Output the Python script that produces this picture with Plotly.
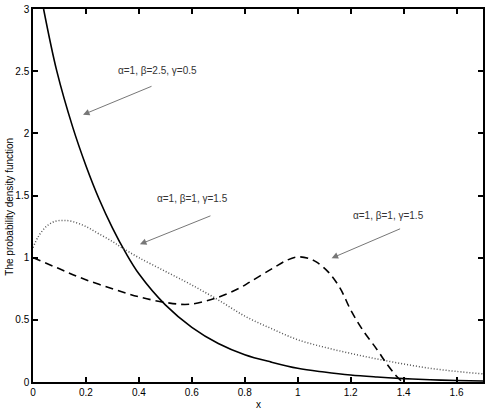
import plotly.graph_objects as go

# curve values
x_solid = [0.04, 0.09, 0.15, 0.2, 0.25, 0.3, 0.35, 0.4, 0.5, 0.6, 0.7, 0.8, 0.9, 1.0,
           1.1, 1.2, 1.3, 1.4, 1.5, 1.6, 1.7]
y_solid = [3.0, 2.5, 2.05, 1.74, 1.47, 1.24, 1.04, 0.87, 0.62, 0.44, 0.31, 0.22, 0.16, 0.11,
           0.08, 0.056, 0.04, 0.027, 0.018, 0.012, 0.008]

x_dot = [0, 0.02, 0.05, 0.08, 0.115, 0.15, 0.2, 0.25, 0.3, 0.336, 0.4, 0.5, 0.6, 0.7, 0.8,
         0.9, 1.0, 1.1, 1.2, 1.3, 1.4, 1.5, 1.6, 1.7]
y_dot = [1.08, 1.17, 1.25, 1.29, 1.30, 1.29, 1.25, 1.19, 1.13, 1.08, 1.0, 0.89, 0.78, 0.66,
         0.53, 0.43, 0.34, 0.28, 0.23, 0.185, 0.145, 0.11, 0.085, 0.065]

x_dash = [0, 0.1, 0.19, 0.3, 0.4, 0.5, 0.59, 0.69, 0.78, 0.82, 0.906, 0.96, 1.0, 1.04, 1.07,
          1.115, 1.16, 1.2, 1.245, 1.3, 1.335, 1.37, 1.39]
y_dash = [1.0, 0.91, 0.83, 0.75, 0.685, 0.64, 0.625, 0.675, 0.755, 0.805, 0.915, 0.98, 1.006,
          0.995, 0.966, 0.886, 0.755, 0.58, 0.42, 0.26, 0.15, 0.055, 0.01]

labels = ['\u03b1=1, \u03b2=2.5, \u03b3=0.5',
          '\u03b1=1, \u03b2=1, \u03b3=1.5',
          '\u03b1=1, \u03b2=1, \u03b3=1.5']
label_pos = [(0.472, 2.506), (0.604, 1.478), (1.343, 1.341)]
arrow_head = [(0.189, 2.15), (0.404, 1.108), (1.128, 0.996)]
arrow_tail = [(70, -29), (72, -29), (70, -30)]

fig = go.Figure()
fig.add_trace(go.Scatter(x=x_solid, y=y_solid, mode='lines', line_shape='spline',
                         line=dict(color='black', width=1.6)))
fig.add_trace(go.Scatter(x=x_dot, y=y_dot, mode='lines', line_shape='spline',
                         line=dict(color='#555555', width=1.5, dash='1px,2px')))
fig.add_trace(go.Scatter(x=x_dash, y=y_dash, mode='lines', line_shape='spline',
                         line=dict(color='black', width=1.6, dash='8px,5px')))

for txt, (tx, ty), (hx, hy), (ax, ay) in zip(labels, label_pos, arrow_head, arrow_tail):
    fig.add_annotation(x=tx, y=ty, text=txt, showarrow=False,
                       font=dict(size=10, color='#333333'))
    fig.add_annotation(x=hx, y=hy, ax=ax, ay=ay, text='', showarrow=True,
                       arrowhead=2, arrowsize=1.3, arrowwidth=1, arrowcolor='#777777')

# axis titles placed by hand so the margins stay fixed
fig.add_annotation(x=0.5, y=0, xref='paper', yref='paper', yshift=-22, yanchor='middle',
                   text='x', showarrow=False, font=dict(size=10, color='black'))
fig.add_annotation(x=0, y=0.47, xref='paper', yref='paper', xshift=-23, xanchor='center',
                   text='The probability density function', textangle=-90,
                   showarrow=False, font=dict(size=10, color='black'))

axis_style = dict(showline=True, linecolor='black', linewidth=1.5, mirror='ticks',
                  ticks='inside', ticklen=5, tickwidth=1.5, tickcolor='black',
                  showgrid=False, zeroline=False, automargin=False,
                  tickfont=dict(size=10, color='black'))

fig.update_layout(
    width=488, height=412,
    margin=dict(l=33, r=5, t=9, b=30),
    paper_bgcolor='white', plot_bgcolor='white',
    showlegend=False,
    font=dict(family='Liberation Sans, Arial, sans-serif', size=10, color='black'),
    xaxis=dict(range=[0, 1.7], dtick=0.2, tick0=0, **axis_style),
    yaxis=dict(range=[0, 3], dtick=0.5, tick0=0, **axis_style),
)

# drop the page's default body margin so the figure sits at the window's corner
fig.write_html("out.html", config={'displayModeBar': False},
               post_script="document.body.style.margin='0';")
